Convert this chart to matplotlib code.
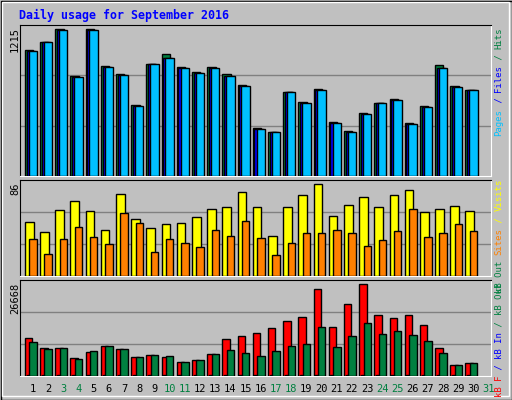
import matplotlib
matplotlib.use("Agg")
import matplotlib.pyplot as plt
from matplotlib.patches import Rectangle

days = list(range(1, 31))
labels = [str(d) for d in range(1, 32)]
weekend = [3, 4, 10, 11, 17, 18, 24, 25, 31]
hits = [1044,1108,1215,827,1215,909,846,590,928,1011,904,862,904,846,755,400,364,697,614,722,449,375,523,606,639,441,581,920,747,714]
files = [1036,1108,1207,818,1207,901,837,579,928,978,895,854,895,829,747,391,364,697,606,714,441,364,515,606,631,433,573,895,738,714]
pages = files
visits = [51,41,62,70,61,43,77,54,45,49,50,55,63,65,79,65,38,65,76,86,56,67,74,65,76,81,60,63,66,61]
sites = [35,21,35,46,37,30,59,50,23,35,31,27,43,38,52,36,20,31,40,40,43,40,28,34,42,63,37,40,49,42]
kbf = [10901,7981,7981,5061,6813,8565,7689,5353,5937,5353,3893,4477,6229,10609,11485,12361,13821,15865,17033,25208,14113,20829,26668,17617,16741,17617,14697,7981,3017,3601]
kbin = [150]*30
kbout = [9733,7689,7981,4769,7105,8565,7689,5353,5937,5645,3893,4477,6229,7397,6521,5645,7105,8565,9149,14113,8273,11485,15281,12069,12945,11777,10025,6521,3017,3601]

W, H = 512, 400
BG = "#C0C0C0"
fig = plt.figure(figsize=(W/100, H/100), dpi=100, facecolor=BG)
MONO = "DejaVu Sans Mono"

def pax(x0, y0, x1, y1):
    return fig.add_axes([x0/W, 1-y1/H, (x1-x0)/W, (y1-y0)/H])

X0, X1 = 20, 491
XL0, XL1 = 0.15, 31.15
panels = [(24.7, 176), (180.3, 276.3), (280.3, 375.7)]

def style(ax, top, k):
    ax.set_facecolor(BG)
    ax.set_xlim(XL0, XL1)
    ylim = top * k
    ax.set_ylim(0, ylim)
    for g in (ylim/3, 2*ylim/3):
        ax.axhline(g, color="#808080", lw=1, zorder=0)
    ax.set_xticks([]); ax.set_yticks([])
    ax.spines["top"].set_color("black"); ax.spines["left"].set_color("black")
    ax.spines["bottom"].set_color("white"); ax.spines["right"].set_color("white")

def bars(ax, vals, off, w, color):
    ax.bar([d + off for d in days], vals, width=w, align="edge", color=color,
           edgecolor="black", linewidth=1, zorder=3)

ax1 = pax(X0, panels[0][0], X1, panels[0][1])
style(ax1, max(hits), 1.03)
bars(ax1, hits, -0.53, 0.55, "#008040")
bars(ax1, files, -0.42, 0.55, "#0000FF")
bars(ax1, pages, -0.28, 0.55, "#00C0FF")

ax2 = pax(X0, panels[1][0], X1, panels[1][1])
style(ax2, max(visits), 1.043)
bars(ax2, visits, -0.53, 0.57, "#FFFF00")
bars(ax2, sites, -0.24, 0.49, "#FF8000")

ax3 = pax(X0, panels[2][0], X1, panels[2][1])
style(ax3, max(kbf), 1.044)
bars(ax3, kbf, -0.53, 0.49, "#FF0000")
bars(ax3, kbin, -0.42, 0.2, "#0000FF")
bars(ax3, kbout, -0.24, 0.49, "#008040")

ov = fig.add_axes([0, 0, 1, 1], facecolor="none")
ov.set_xlim(0, W); ov.set_ylim(H, 0); ov.axis("off")
ov.add_patch(Rectangle((0.5, 0.5), W-1, H-1, fill=False, ec="black", lw=1))
ov.add_patch(Rectangle((2, 2), W-5, H-6, fill=False, ec="white", lw=1))
ov.text(19, 15, "Daily usage for September 2016", color="#0000FF", fontsize=8.4,
        family=MONO, fontweight="bold", va="center", ha="left")

for (y0, y1), v in zip(panels, [max(hits), max(visits), max(kbf)]):
    ov.text(15, y0 + 2, str(v), rotation=90, ha="center", va="top", fontsize=7.5, family=MONO)

RFS = 6.5
adv = 0.602 * RFS * 100 / 72
def right_label(y_top, segs):
    y = y_top
    for txt, col in reversed(segs):
        n = len(txt)
        ov.text(499, y + n * adv / 2, txt, rotation=90, color=col, fontsize=RFS,
                family=MONO, ha="center", va="center")
        y += n * adv

right_label(27, [("Pages", "#00C0FF"), (" / ", "#0000FF"), ("Files", "#0000FF"),
                 (" / ", "#008040"), ("Hits", "#008040")])
right_label(179, [("kB Out ", "#008040"), ("Sites", "#FF8000"), (" / ", "#FFFF00"), ("Visits", "#FFFF00")])
right_label(283, [("kB F", "#FF0000"), (" / ", "#0000FF"), ("kB In", "#0000FF"),
                  (" / ", "#008040"), ("kB Out", "#008040")])

for i, lab in enumerate(labels):
    d = i + 1
    xpx = X0 + (d - XL0) / (XL1 - XL0) * (X1 - X0)
    col = "#008040" if d in weekend else "black"
    ov.text(xpx, 389, lab, color=col, fontsize=7.5, family=MONO, ha="center", va="center")

fig.savefig("out.png", dpi=100, facecolor=BG)
